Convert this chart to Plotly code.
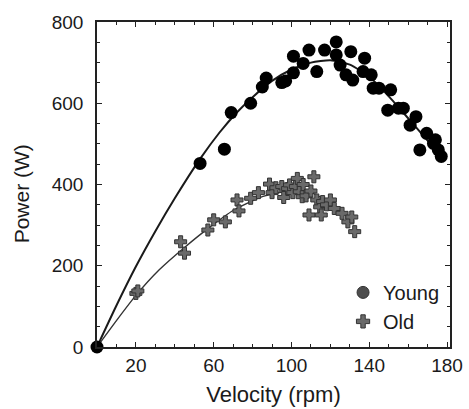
import plotly.graph_objects as go

# ---- data ----
young_v = [0, 53, 65.5, 69, 79, 85, 87, 95, 97, 101, 101, 106, 109, 113, 117, 123, 123, 125,
           128, 130.5, 131.5, 136.8, 137.6, 141, 142, 145, 151, 149.5, 155, 157.5, 161, 164,
           166, 169.5, 173, 174, 175.5, 177]
young_p = [0, 452, 487, 577, 600, 640, 662, 651, 655, 675, 716, 698, 731, 678, 731, 751, 719, 694,
           670, 727, 657, 678, 711, 670, 637, 637, 633, 583, 588, 588, 546, 567,
           485, 526, 501, 510, 485, 469]

old_v = [20, 21, 43, 45, 57, 60, 66, 72, 73, 79, 83, 88.7, 90, 92, 95, 96, 98, 99, 100.7, 102,
         103, 104, 105.5, 106, 107.5, 109, 110, 111.5, 113, 114.5, 115.3, 116, 118, 120, 122,
         126, 129, 131, 132.5]
old_p = [132, 138, 259, 231, 288, 313, 308, 362, 335, 366, 380, 401, 380, 392, 395, 368, 390, 399, 380, 395,
         415, 382, 370, 400, 372, 325, 384, 419, 362, 345, 325, 358, 350, 362, 341,
         329, 308, 320, 284]

young_fit_v = [0, 10, 20, 30, 40, 53, 63, 72, 80, 90, 100, 110, 120, 130, 140, 150, 160, 170, 178]
young_fit_p = [0, 102, 198, 285, 366, 463, 528, 578, 615, 655, 683, 700, 706, 695, 665, 617, 563, 508, 462]

old_fit_v = [0, 10, 20, 32, 45, 58, 70, 85, 100, 110, 120, 132]
old_fit_p = [0, 65, 127, 190, 245, 295, 336, 370, 385, 380, 355, 308]

x_ticks = [20, 60, 100, 140, 180]
y_ticks = [0, 200, 400, 600, 800]

FONT = "Liberation Sans, Arial, Helvetica, sans-serif"
DARK = "#1a1a1a"

fig = go.Figure()

fig.add_trace(go.Scatter(x=young_fit_v, y=young_fit_p, mode="lines",
                         line=dict(color=DARK, width=2, shape="spline", smoothing=0.6),
                         showlegend=False, hoverinfo="skip", cliponaxis=False))
fig.add_trace(go.Scatter(x=old_fit_v, y=old_fit_p, mode="lines",
                         line=dict(color="#333333", width=1.4, shape="spline", smoothing=0.6),
                         showlegend=False, hoverinfo="skip", cliponaxis=False))

fig.add_trace(go.Scatter(x=old_v, y=old_p, mode="markers",
                         marker=dict(symbol="cross", size=10, color="#6a6a6a",
                                     line=dict(color="#333333", width=1)),
                         showlegend=False, cliponaxis=False))
fig.add_trace(go.Scatter(x=young_v, y=young_p, mode="markers",
                         marker=dict(symbol="circle", size=13, color="black",
                                     line=dict(width=0)),
                         showlegend=False, cliponaxis=False))

# legend entries
fig.add_trace(go.Scatter(x=[None], y=[None], mode="markers", name="Young",
                         marker=dict(symbol="circle", size=12, color="#4d4d4d",
                                     line=dict(color="#333333", width=1))))
fig.add_trace(go.Scatter(x=[None], y=[None], mode="markers", name="Old",
                         marker=dict(symbol="cross", size=11, color="#6a6a6a",
                                     line=dict(color="#333333", width=1))))

axis_common = dict(showline=True, linecolor="#222222", linewidth=1.5, mirror="ticks",
                   ticks="inside", ticklen=5, tickwidth=1, tickcolor="#222222",
                   showgrid=False, zeroline=False, automargin=False,
                   tickfont=dict(family=FONT, size=19, color=DARK))

fig.update_xaxes(range=[0, 181.5], tickmode="array", tickvals=x_ticks,
                 ticktext=[str(v) for v in x_ticks],
                 minor=dict(dtick=10, tick0=0, ticks="inside", ticklen=3, tickcolor="#222222"),
                 title=dict(text="Velocity (rpm)", font=dict(family=FONT, size=22, color=DARK),
                            standoff=12),
                 **axis_common)
fig.update_yaxes(range=[0, 800], tickmode="array", tickvals=y_ticks,
                 ticktext=[str(v) for v in y_ticks],
                 minor=dict(dtick=50, tick0=0, ticks="inside", ticklen=3, tickcolor="#222222"),
                 ticklabelstandoff=8,
                 **axis_common)

fig.add_annotation(text="Power (W)", textangle=-90, xref="paper", yref="paper",
                   x=-0.215, y=0.47, xanchor="center", yanchor="middle", showarrow=False,
                   font=dict(family=FONT, size=21, color=DARK))

fig.update_layout(
    width=469, height=409,
    margin=dict(l=97, r=19, t=22, b=62),
    paper_bgcolor="white", plot_bgcolor="white",
    legend=dict(x=0.697, y=0.228, xanchor="left", yanchor="top",
                font=dict(family=FONT, size=20, color=DARK),
                bgcolor="rgba(0,0,0,0)", itemwidth=30, tracegroupgap=0),
)

fig.write_html("out.html")
